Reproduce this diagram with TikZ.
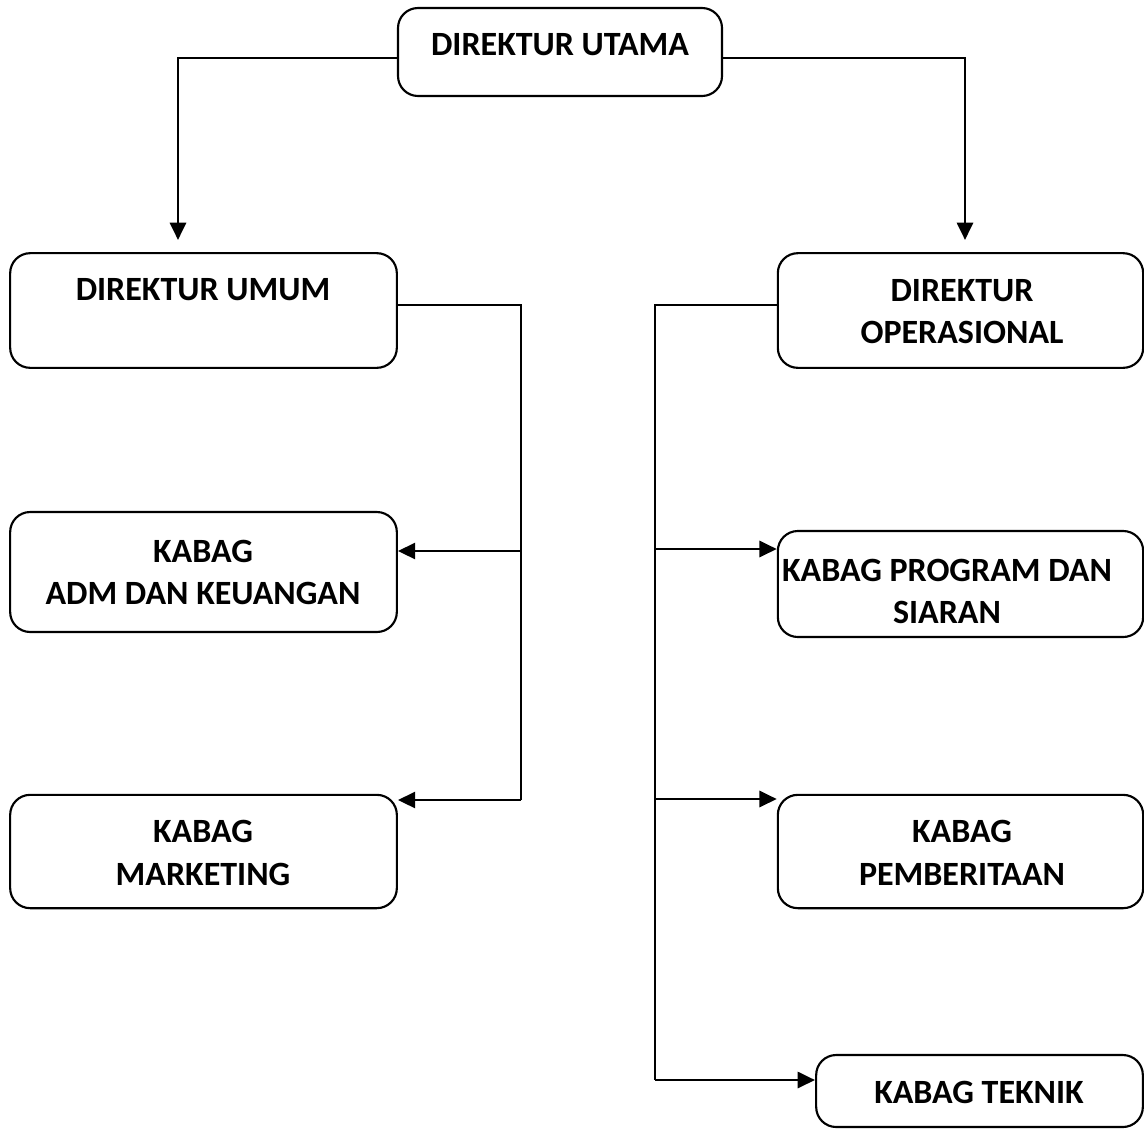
\documentclass[tikz,border=0pt]{standalone}
\usepackage{fontspec}
\setmainfont{Carlito}
\usetikzlibrary{arrows.meta}

\begin{document}
\begin{tikzpicture}[x=0.75pt,y=-0.75pt, line width=2.2pt,
    box/.style={draw,line width=1.6pt,rounded corners=15pt,inner sep=0pt},
    txt/.style={font=\fontsize{25.5pt}{32pt}\selectfont\bfseries,align=center,inner sep=0pt},
    arr/.style={-{Triangle[length=13pt,width=12pt]}}]
\useasboundingbox (0,0) rectangle (1144,1128);

% kotak
\node[box,minimum width=243pt,minimum height=66pt] (utama) at (560,52) {};
\node[box,minimum width=290pt,minimum height=86pt] (umum) at (203.5,310.5) {};
\node[box,minimum width=274pt,minimum height=86pt] (ops) at (960.5,310.5) {};
\node[box,minimum width=290pt,minimum height=90pt] (adm) at (203.5,572) {};
\node[box,minimum width=290pt,minimum height=85pt] (mkt) at (203.5,851.5) {};
\node[box,minimum width=274pt,minimum height=79.5pt] (prog) at (960.5,584) {};
\node[box,minimum width=274pt,minimum height=85pt] (berita) at (960.5,851.5) {};
\node[box,minimum width=245pt,minimum height=54pt] (teknik) at (979.5,1091) {};

% teks
\node[txt] (tutama) at (560,45) {DIREKTUR UTAMA};
\node[txt] (tumum) at (203,290) {DIREKTUR UMUM};
\node[txt] (tops) at (962,311.5) {DIREKTUR\\OPERASIONAL};
\node[txt] (tadm) at (203,572.5) {KABAG\\ADM DAN KEUANGAN};
\node[txt] (tmkt) at (203,853) {KABAG\\MARKETING};
\node[txt] (tprog) at (947,591.5) {KABAG PROGRAM DAN\\SIARAN};
\node[txt] (tberita) at (962,853) {KABAG\\PEMBERITAAN};
\node[txt] (tteknik) at (979,1092) {KABAG TEKNIK};

% ujung panah
\coordinate (tipumum) at (178,240);
\coordinate (tipops) at (965,240);
\coordinate (lbot) at (521,800);
\coordinate (rbot) at (655,1080);
\coordinate (tiptek) at (815,1080);

\draw[arr] (utama.west |- 0,58) -| (tipumum);
\draw[arr] (utama.east |- 0,58) -| (tipops);

\draw (umum.east |- 0,305) -| (lbot);
\draw[arr] (lbot |- 0,551) -- (adm.east |- 0,551);
\draw[arr] (lbot) -- (mkt.east |- lbot);

\draw (ops.west |- 0,305) -| (rbot);
\draw[arr] (rbot |- 0,549) -- (prog.west |- 0,549);
\draw[arr] (rbot |- 0,799) -- (berita.west |- 0,799);
\draw[arr] (rbot) -- (tiptek);
\end{tikzpicture}
\end{document}
